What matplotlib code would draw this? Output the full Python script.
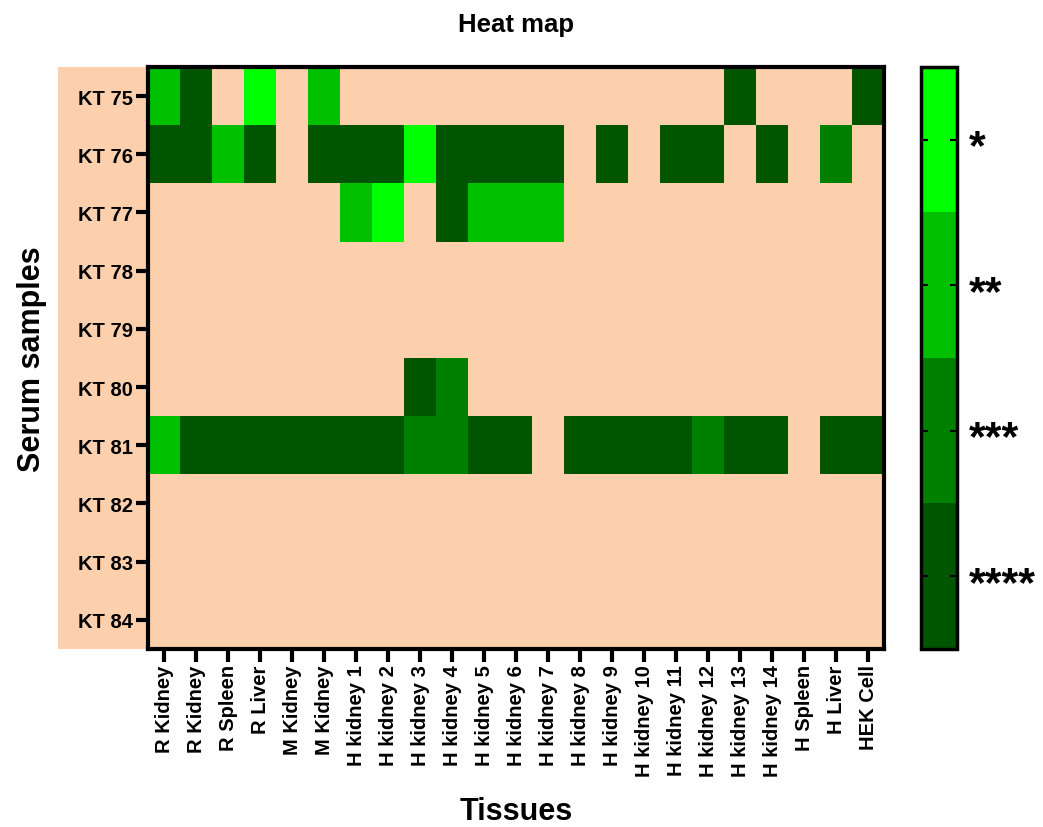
import matplotlib
matplotlib.use("Agg")
import matplotlib.pyplot as plt
import numpy as np
from matplotlib.colors import ListedColormap, BoundaryNorm
from matplotlib.patches import Rectangle
from matplotlib.transforms import blended_transform_factory
import matplotlib.cm as cm

plt.rcParams['font.family'] = ['Liberation Sans', 'DejaVu Sans']
plt.rcParams['font.weight'] = 'bold'

tissues = ["R Kidney", "R Kidney", "R Spleen", "R Liver", "M Kidney", "M Kidney",
           "H kidney 1", "H kidney 2", "H kidney 3", "H kidney 4", "H kidney 5",
           "H kidney 6", "H kidney 7", "H kidney 8", "H kidney 9", "H kidney 10",
           "H kidney 11", "H kidney 12", "H kidney 13", "H kidney 14", "H Spleen",
           "H Liver", "HEK Cell"]
samples = ["KT 75", "KT 76", "KT 77", "KT 78", "KT 79",
           "KT 80", "KT 81", "KT 82", "KT 83", "KT 84"]

# number of significance stars per sample/tissue (0 = not significant)
kt75 = [2, 4, 0, 1, 0, 2, 0, 0, 0, 0, 0, 0, 0, 0, 0, 0, 0, 0, 4, 0, 0, 0, 4]
kt76 = [4, 4, 2, 4, 0, 4, 4, 4, 1, 4, 4, 4, 4, 0, 4, 0, 4, 4, 0, 4, 0, 3, 0]
kt77 = [0, 0, 0, 0, 0, 0, 2, 1, 0, 4, 2, 2, 2, 0, 0, 0, 0, 0, 0, 0, 0, 0, 0]
kt78 = [0] * 23
kt79 = [0] * 23
kt80 = [0, 0, 0, 0, 0, 0, 0, 0, 4, 3, 0, 0, 0, 0, 0, 0, 0, 0, 0, 0, 0, 0, 0]
kt81 = [2, 4, 4, 4, 4, 4, 4, 4, 3, 3, 4, 4, 0, 4, 4, 4, 4, 3, 4, 4, 0, 4, 4]
kt82 = [0] * 23
kt83 = [0] * 23
kt84 = [0] * 23

star_labels = ["*", "**", "***", "****"]

data = np.array([kt75, kt76, kt77, kt78, kt79, kt80, kt81, kt82, kt83, kt84])

peach = "#FCD0AD"
greens = ["#00FF00", "#00C000", "#008000", "#005500"]  # *, **, ***, ****

cmap = ListedColormap([peach] + greens)
norm = BoundaryNorm(np.arange(-0.5, 5.5, 1), cmap.N)

fig = plt.figure(figsize=(10.43, 8.28), dpi=100)
ax = fig.add_axes((0.1419, 0.2150, 0.7057, 0.7029))

# peach band behind the row labels
fig.patches.append(Rectangle((58 / 1043, 0.2150), 90 / 1043, 0.7029,
                             transform=fig.transFigure, facecolor=peach,
                             edgecolor='none', zorder=-1))

ax.pcolormesh(np.arange(len(tissues) + 1), np.arange(len(samples) + 1), data,
              cmap=cmap, norm=norm)
ax.set_xlim(0, len(tissues))
ax.set_ylim(len(samples), 0)

ax.set_xticks(np.arange(len(tissues)) + 0.5)
ax.set_xticklabels(tissues, rotation=90, fontsize=14.5, fontweight='bold')
ax.set_yticks(np.arange(len(samples)) + 0.5)
ax.set_yticklabels(samples, fontsize=14.5, fontweight='bold')
ax.tick_params(direction='out', length=9, width=3, pad=2)
for s in ax.spines.values():
    s.set_linewidth(3)

ax.set_title("Heat map", fontsize=18.5, fontweight='bold', pad=26)
ax.set_xlabel("Tissues", fontsize=22, fontweight='bold', labelpad=14)
ax.set_ylabel("Serum samples", fontsize=22, fontweight='bold', labelpad=22)

# legend bar, darkest (****) at the bottom
cax = fig.add_axes((921 / 1043, 0.2150, 36 / 1043, 0.7029))
bar_cmap = ListedColormap(greens[::-1])
bar_norm = BoundaryNorm(np.arange(0.5, 5.5, 1), bar_cmap.N)
sm = cm.ScalarMappable(cmap=bar_cmap, norm=bar_norm)
cb = fig.colorbar(sm, cax=cax, ticks=[1, 2, 3, 4])
cb.minorticks_off()
cb.ax.set_yticklabels([])
cb.ax.tick_params(direction='in', left=True, right=True, length=5, width=1.5)
cb.outline.set_linewidth(2.5)

# star labels beside the bar
trans = blended_transform_factory(cb.ax.transAxes, cb.ax.transData)
for lvl, lab in zip([1, 2, 3, 4], star_labels[::-1]):
    cb.ax.text(1.32, lvl - 0.02, lab, transform=trans, fontsize=31,
               fontweight='bold', ha='left', va='center_baseline')

fig.savefig("out.png", dpi=100)
